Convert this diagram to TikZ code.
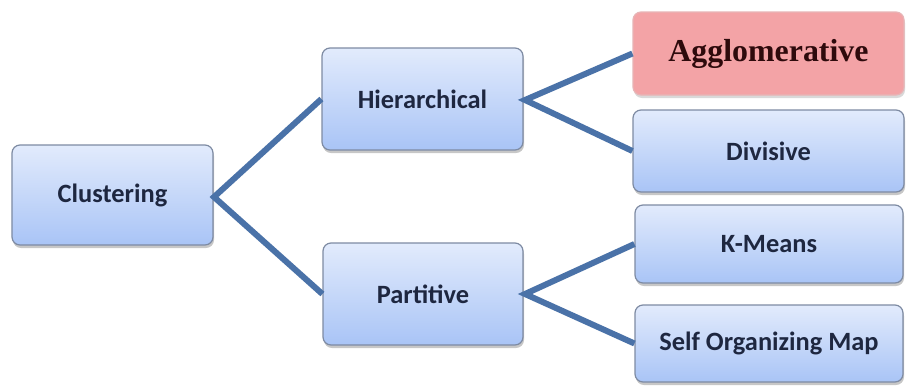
\documentclass[tikz,border=0pt]{standalone}
\usepackage{fontspec}
\newfontfamily\boxfont{Carlito}
\newfontfamily\headfont{Liberation Serif}
\usetikzlibrary{shadows}
\definecolor{linkblue}{HTML}{4A72A8}
\definecolor{boxtop}{HTML}{E2EBFC}
\definecolor{boxbot}{HTML}{A9C4F6}
\definecolor{boxedge}{HTML}{7E8BA3}
\definecolor{boxtext}{HTML}{1E2740}
\definecolor{pinkfill}{HTML}{F3A3A6}
\definecolor{pinkedge}{HTML}{E7B4B6}
\definecolor{pinktext}{HTML}{2E0A0C}
\tikzset{
  box/.style={draw=boxedge, line width=1.2bp, rounded corners=8bp,
    top color=boxtop, bottom color=boxbot,
    drop shadow={shadow xshift=1bp, shadow yshift=-3bp, fill=black, opacity=0.22},
    font=\boxfont\fontsize{26.5}{30}\selectfont\bfseries, text=boxtext, align=center},
  hotbox/.style={draw=pinkedge, line width=1.2bp, rounded corners=8bp,
    fill=pinkfill,
    drop shadow={shadow xshift=1bp, shadow yshift=-3bp, fill=black, opacity=0.15},
    font=\headfont\fontsize{32}{36}\selectfont\bfseries, text=pinktext, align=center},
  link/.style={draw=linkblue, line width=6bp, line join=miter}
}
\begin{document}
\begin{tikzpicture}[x=1bp, y=-1bp]
  \useasboundingbox[fill=white] (0,0) rectangle (906,386);

  % meeting points of the connector pairs
  \coordinate (c0) at (214,197);
  \coordinate (h0) at (525,100);
  \coordinate (p0) at (525,294);

  % level 1
  \node[box, minimum width=201bp, minimum height=100bp] (clu) at (112.5,195) {Clustering};
  % level 2
  \node[box, minimum width=201bp, minimum height=102bp] (hie) at (422.5,99) {Hierarchical};
  \node[box, minimum width=200bp, minimum height=102bp] (par) at (423,294) {Partitive};
  % level 3
  \node[hotbox, minimum width=271bp, minimum height=83bp] (agg) at (768.5,53.5) {Agglomerative};
  \node[box, minimum width=271bp, minimum height=82bp] (div) at (768.5,151) {Divisive};
  \node[box, minimum width=268bp, minimum height=78bp] (kme) at (769,244) {K-Means};
  \node[box, minimum width=268bp, minimum height=77bp] (som) at (769,343.5) {Self Organizing Map};

  \draw[link] (hie.west) -- (c0) -- (par.west);
  \draw[link] (agg.west) -- (h0) -- (div.west);
  \draw[link] (kme.west) -- (p0) -- (som.west);
\end{tikzpicture}
\end{document}
